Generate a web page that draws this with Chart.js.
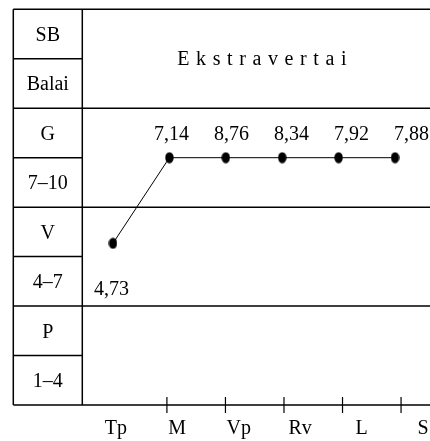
<!DOCTYPE html>
<html>
<head>
<meta charset="utf-8">
<script src="https://cdn.jsdelivr.net/npm/chart.js@4"></script>
<style>
  html, body { margin: 0; padding: 0; background: #fff; }
  canvas { display: block; }
</style>
</head>
<body>
<canvas id="chart" width="430" height="441"></canvas>
<script>
// values
const categories = ["Tp", "M", "Vp", "Rv", "L", "S"];
const scores = [4.73, 7.14, 8.76, 8.34, 7.92, 7.88];
// where each point sits on the 8-row grid (rows counted from the bottom)
const levels = [3.27, 5, 5, 5, 5, 5];
const rowLabels = ["SB", "Balai", "G", "7–10", "V", "4–7", "P", "1–4"];
const title = "Ekstravertai";

const SERIF = '"Liberation Serif", "Times New Roman", serif';
Chart.defaults.font.family = SERIF;
Chart.defaults.font.size = 20;
Chart.defaults.color = "#000";

function fmt(v) {
    return v.toFixed(2).replace(".", ",");
}

// a hidden linear x scale, only used to place things
function hiddenX(min, max) {
    return { type: "linear", display: false, min: min, max: max };
}

// the dots in the picture are a bit taller than wide
const dot = document.createElement("canvas");
dot.width = 9;
dot.height = 12;
(function () {
    const c = dot.getContext("2d");
    c.fillStyle = "#000";
    c.beginPath();
    c.ellipse(4.5, 6, 4.2, 5.6, 0, 0, Math.PI * 2);
    c.fill();
})();

const tablePlugin = {
    id: "table",
    afterDatasetsDraw(chart) {
        const ctx = chart.ctx;
        const area = chart.chartArea;
        const y = chart.scales.y;
        const outerLeft = 13.3;

        ctx.save();
        ctx.strokeStyle = "#000";
        ctx.lineWidth = 1.5;
        ctx.beginPath();
        // vertical borders of the label column
        ctx.moveTo(outerLeft, area.top);
        ctx.lineTo(outerLeft, area.bottom);
        ctx.moveTo(area.left, area.top);
        ctx.lineTo(area.left, area.bottom);
        // horizontal rules
        for (let r = 0; r <= rowLabels.length; r++) {
            const py = y.getPixelForValue(r);
            const right = r % 2 === 0 ? area.right : area.left;
            ctx.moveTo(outerLeft, py);
            ctx.lineTo(right, py);
        }
        ctx.stroke();

        // row labels
        ctx.fillStyle = "#000";
        ctx.font = "20px " + SERIF;
        ctx.textAlign = "center";
        ctx.textBaseline = "alphabetic";
        const cx = (outerLeft + area.left) / 2;
        rowLabels.forEach(function (label, i) {
            const mid = y.getPixelForValue(rowLabels.length - i - 0.5);
            ctx.fillText(label, cx, mid + 6.8);
        });

        // title, letter spaced
        ctx.textAlign = "left";
        ctx.letterSpacing = "6.6px";
        const w = ctx.measureText(title).width - 6.6;
        const tx = area.left + 179.6 - w / 2;
        ctx.fillText(title, tx, y.getPixelForValue(7) + 6.4);
        ctx.letterSpacing = "0px";

        // value labels
        ctx.textAlign = "center";
        const xl = chart.scales.xl;
        scores.forEach(function (v, i) {
            const py = y.getPixelForValue(levels[i]);
            const by = levels[i] < 4 ? py + 52 : py - 17.3;
            ctx.fillText(fmt(v), xl.getPixelForValue(i), by);
        });

        // tick marks across the axis
        const xt = chart.scales.xt;
        ctx.lineWidth = 1.2;
        ctx.beginPath();
        for (let i = 1; i < categories.length; i++) {
            const px = xt.getPixelForValue(i);
            ctx.moveTo(px, area.bottom - 8);
            ctx.lineTo(px, area.bottom + 8);
        }
        ctx.stroke();
        ctx.restore();
    }
};

new Chart(document.getElementById("chart"), {
    type: "line",
    data: {
        datasets: [
            {
                data: categories.map(function (c, i) { return { x: i, y: levels[i] }; }),
                xAxisID: "x",
                yAxisID: "y",
                borderColor: "#000",
                borderWidth: 1,
                backgroundColor: "#000",
                pointStyle: dot,
                pointRadius: 5,
                tension: 0
            }
        ]
    },
    options: {
        responsive: false,
        animation: false,
        devicePixelRatio: 1,
        layout: {
            autoPadding: false,
            padding: { left: 82.3, top: 9.3, right: 0, bottom: 0 }
        },
        plugins: {
            legend: { display: false },
            tooltip: { enabled: false }
        },
        scales: {
            x: hiddenX(-0.544, 5.620),
            xl: hiddenX(-0.488, 5.308),
            xt: hiddenX(-0.4455, 5.4945),
            xc: {
                type: "linear",
                position: "bottom",
                min: -0.545,
                max: 5.114,
                grid: { display: false, drawTicks: false },
                border: { display: false },
                afterBuildTicks: function (scale) {
                    scale.ticks = categories.map(function (c, i) { return { value: i }; });
                },
                afterFit: function (scale) {
                    scale.height = 36;
                    scale.paddingLeft = 0;
                    scale.paddingRight = 0;
                },
                ticks: {
                    autoSkip: false,
                    maxRotation: 0,
                    padding: 12,
                    font: { size: 20 },
                    callback: function (value) {
                        return categories[value];
                    }
                }
            },
            y: { type: "linear", display: false, min: 0, max: 8 }
        }
    },
    plugins: [tablePlugin]
});
</script>
</body>
</html>
